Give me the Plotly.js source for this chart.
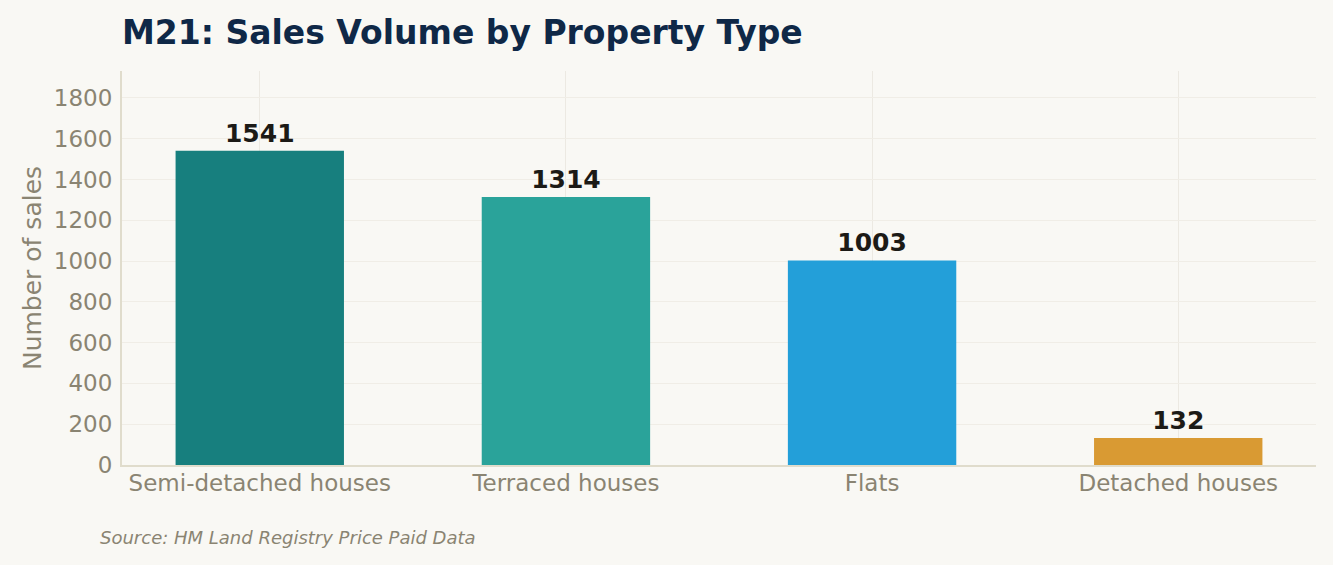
<!DOCTYPE html>
<html>
<head>
    <title>M21: Sales Volume by Property Type</title>
    <script src="https://cdn.plot.ly/plotly-3.0.1.min.js"></script>
    <style>
        * { margin: 0; padding: 0; box-sizing: border-box; }
        body { background: #f9f8f4; }
        #chart { width: 1333px; height: 565px; }
    </style>
</head>
<body>
    <div id="chart"></div>
    <script>
        const categories = ['Semi-detached houses', 'Terraced houses', 'Flats', 'Detached houses'];
        const salesCounts = [1541, 1314, 1003, 132];
        const barColors = ['#177f7e', '#2aa39a', '#239fd9', '#d99a33'];
        const yTicks = [0, 200, 400, 600, 800, 1000, 1200, 1400, 1600, 1800];

        const font = 'DejaVu Sans, sans-serif';

        const data = [{
            type: 'bar',
            x: categories,
            y: salesCounts,
            width: 0.55,
            marker: { color: barColors },
            text: salesCounts.map(String),
            textposition: 'outside',
            cliponaxis: false,
            textfont: { family: font, size: 25, color: '#1c1a16', weight: 'bold' },
            hoverinfo: 'x+y'
        }];

        const layout = {
            width: 1333,
            height: 565,
            paper_bgcolor: '#f9f8f4',
            plot_bgcolor: '#f9f8f4',
            margin: { l: 122, r: 17, t: 71, b: 100 },
            font: { family: font, color: '#8a8472' },
            showlegend: false,
            title: {
                text: '<b>M21: Sales Volume by Property Type</b>',
                font: { family: font, size: 33, color: '#0f2847' },
                x: 122 / 1333,
                xanchor: 'left',
                y: 1 - 32 / 565,
                yanchor: 'middle'
            },
            xaxis: {
                range: [-0.45, 3.45],
                showgrid: true,
                gridcolor: '#ece9e2',
                showline: true,
                linecolor: '#e0dccc',
                linewidth: 2,
                ticks: '',
                ticklabelstandoff: -4,
                tickfont: { family: font, size: 23, color: '#8a8472' }
            },
            yaxis: {
                range: [0, 1932],
                tickvals: yTicks,
                ticktext: yTicks.map(String),
                showgrid: true,
                gridcolor: '#f0ede6',
                zeroline: false,
                showline: true,
                linecolor: '#e0dccc',
                linewidth: 2,
                ticks: '',
                ticklabelstandoff: 3,
                tickfont: { family: font, size: 23, color: '#8a8472' },
                title: {
                    text: 'Number of sales',
                    font: { family: font, size: 25, color: '#8a8472' },
                    standoff: 5
                }
            },
            annotations: [{
                text: '<i>Source: HM Land Registry Price Paid Data</i>',
                xref: 'paper', yref: 'paper',
                x: -24 / 1194, y: -72 / 394,
                xanchor: 'left', yanchor: 'middle',
                showarrow: false,
                font: { family: font, size: 18, color: '#8a8472' }
            }]
        };

        Plotly.newPlot('chart', data, layout, { displayModeBar: false, responsive: false });
    </script>
</body>
</html>
